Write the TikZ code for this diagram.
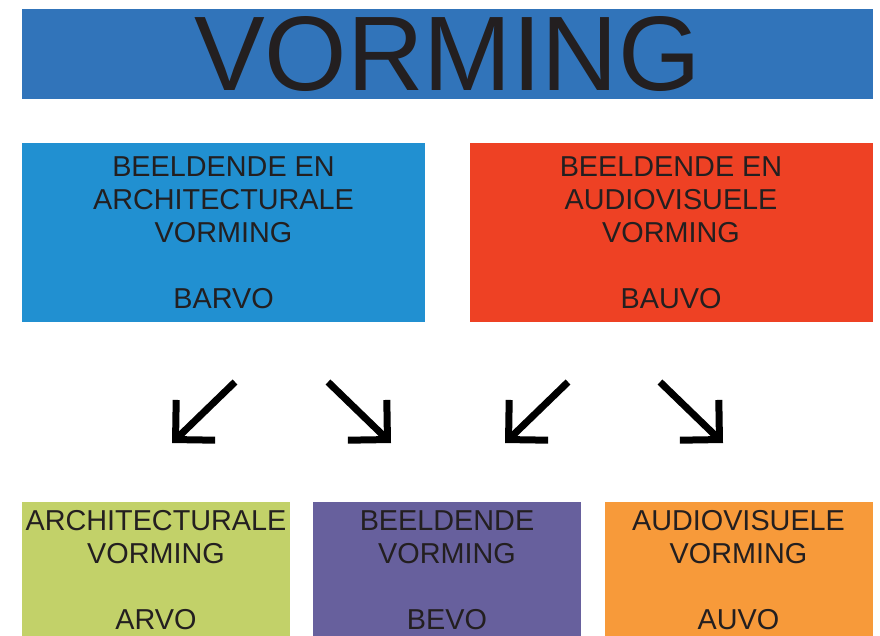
\documentclass[tikz,border=0pt]{standalone}
\usepackage{fontspec}
\setmainfont{Liberation Sans}
\usetikzlibrary{arrows.meta}
\definecolor{inkdark}{HTML}{231F20}
\definecolor{vormblue}{HTML}{3174BA}
\definecolor{barvoblue}{HTML}{2190D1}
\definecolor{bauvored}{HTML}{EE4124}
\definecolor{arvogreen}{HTML}{C2D169}
\definecolor{bevopurple}{HTML}{67609D}
\definecolor{auvoorange}{HTML}{F79A3A}
\begin{document}
\begin{tikzpicture}[x=1pt,y=-1pt,>={Straight Barb[length=28pt,width=56pt]},
		box/.style={inner sep=0pt,align=center,text=inkdark,
			font=\fontsize{28.8}{33}\selectfont},
		topbox/.style={box,minimum width=403pt,minimum height=179pt},
		lowbox/.style={box,minimum width=268pt,minimum height=136.4pt},
		splitarrow/.style={->,line width=7pt,black}]
		\clip (0,0) rectangle (880,635);
		% title banner
		\node[box,fill=vormblue,minimum width=851pt,minimum height=90pt,
			font=\fontsize{106}{110}\selectfont] (vorming) at (447.5,54) {VORMING};
		% second row
		\node[topbox,fill=barvoblue] (barvo) at (223.5,232.5)
			{BEELDENDE EN\\ARCHITECTURALE\\VORMING\\[33pt]BARVO};
		\node[topbox,fill=bauvored] (bauvo) at (671,232.5)
			{BEELDENDE EN\\AUDIOVISUELE\\VORMING\\[33pt]BAUVO};
		% third row
		\node[lowbox,fill=arvogreen] (arvo) at (156,570.2)
			{ARCHITECTURALE\\VORMING\\[33pt]ARVO};
		\node[lowbox,fill=bevopurple] (bevo) at (447,570.2)
			{BEELDENDE\\VORMING\\[33pt]BEVO};
		\node[lowbox,fill=auvoorange] (auvo) at (738.5,570.2)
			{AUDIOVISUELE\\VORMING\\[33pt]AUVO};
		% arrows
		\foreach \sx/\sy/\ex/\ey [count=\i] in {235/382/172/443,328/382/391/443,
			568/382/505/443,660/382/723/443}
		{\coordinate (s\i) at (\sx,\sy);
			\coordinate (e\i) at (\ex,\ey);
			\draw[splitarrow] (s\i) -- (e\i);}
\end{tikzpicture}
\end{document}
